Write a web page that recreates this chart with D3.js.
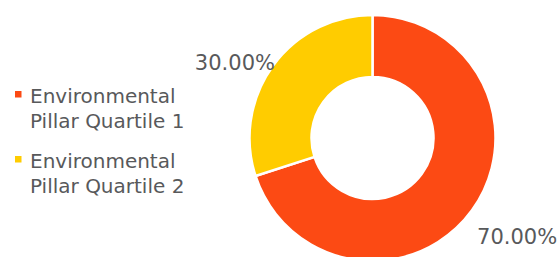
<!DOCTYPE html>
<html lang="en">
<head>
  <meta charset="utf-8">
  <title>Environmental Pillar Quartiles</title>
  <script src="https://d3js.org/d3.v7.min.js"></script>
  <style>
    body { margin: 0; background: #fff; }
    text { font-family: "DejaVu Sans", sans-serif; fill: #58595b; }
  </style>
</head>
<body>
<svg width="558" height="257"></svg>
<script>

// data
var categories = ["Environmental Pillar Quartile 1", "Environmental Pillar Quartile 2"];
var legendLines = [["Environmental", "Pillar Quartile 1"], ["Environmental", "Pillar Quartile 2"]];
var values = [70, 30];
var colors = ["#fc4a14", "#ffcc00"];

var svg = d3.select("svg"),
    cx = 372.5, cy = 138,
    outer = 123, inner = 61;

var pie = d3.pie().sort(null).value(function(d) { return d; });
var arc = d3.arc().innerRadius(inner).outerRadius(outer);
var labelArc = d3.arc().innerRadius(128).outerRadius(128);

var g = svg.append("g").attr("transform", "translate(" + cx + "," + cy + ")");
var arcs = pie(values);

g.selectAll("path")
    .data(arcs)
  .enter().append("path")
    .attr("d", arc)
    .attr("fill", function(d, i) { return colors[i]; })
    .attr("stroke", "#fff")
    .attr("stroke-width", 2.5)
    .attr("stroke-linejoin", "miter");

// data labels, outside the ring
g.selectAll("text.lbl")
    .data(arcs)
  .enter().append("text")
    .attr("class", "lbl")
    .attr("transform", function(d) {
        var c = labelArc.centroid(d);
        var right = c[0] > 0;
        return "translate(" + (c[0] + (right ? 1 : 6)) + "," + (c[1] + (right ? 31 : 7)) + ")";
    })
    .attr("text-anchor", function(d) { return labelArc.centroid(d)[0] > 0 ? "start" : "end"; })
    .style("font-size", "21px")
    .text(function(d) { return d3.format(".2f")(d.data) + "%"; });

// legend
var legend = svg.append("g").attr("transform", "translate(15,91)");
var item = legend.selectAll("g")
    .data(categories)
  .enter().append("g")
    .attr("transform", function(d, i) { return "translate(0," + (i * 65) + ")"; });

item.append("rect")
    .attr("width", 6.5).attr("height", 6.5)
    .attr("fill", function(d, i) { return colors[i]; });

item.append("text")
    .attr("x", 15)
    .attr("y", 12)
    .style("font-size", "20px")
  .selectAll("tspan")
    .data(function(d, i) { return legendLines[i]; })
  .enter().append("tspan")
    .attr("x", 15)
    .attr("dy", function(d, i) { return i ? 25 : 0; })
    .text(function(d) { return d; });

</script>
</body>
</html>
